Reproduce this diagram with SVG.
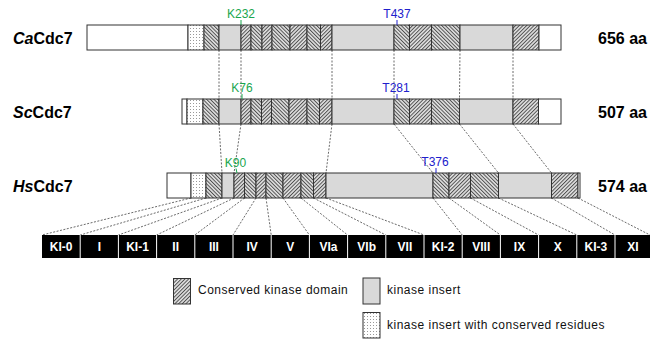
<svg xmlns="http://www.w3.org/2000/svg" width="650" height="339" viewBox="0 0 650 339">
<defs>
<pattern id="hA" width="2.6" height="2.6" patternUnits="userSpaceOnUse" patternTransform="rotate(45)"><rect width="2.6" height="2.6" fill="#e0e0e0"/><line x1="0.5" y1="0" x2="0.5" y2="2.6" stroke="#444" stroke-width="0.9"/></pattern>
<pattern id="hB" width="2.6" height="2.6" patternUnits="userSpaceOnUse" patternTransform="rotate(-45)"><rect width="2.6" height="2.6" fill="#e0e0e0"/><line x1="0.5" y1="0" x2="0.5" y2="2.6" stroke="#444" stroke-width="0.9"/></pattern>
<pattern id="dt" width="3" height="3" patternUnits="userSpaceOnUse"><rect width="3" height="3" fill="#fff"/><rect x="1" y="1" width="1" height="1" fill="#999"/></pattern>
</defs>
<style>
rect.s{stroke:#333;stroke-width:1}
.w{fill:#fff}.g{fill:#d9d9d9}.d{fill:url(#dt)}.a{fill:url(#hA)}.b{fill:url(#hB)}
.name{font-family:"Liberation Sans",Arial,sans-serif;font-weight:bold;font-size:16px;fill:#000}
.aa{font-family:"Liberation Sans",Arial,sans-serif;font-weight:bold;font-size:16px;fill:#000}
.site{font-family:"Liberation Sans",Arial,sans-serif;font-size:12px;text-anchor:middle}
.kg{fill:#1aa64e}.tb{fill:#2020cc}
.tk{stroke-width:1}
.conn line{stroke:#444;stroke-width:0.8;stroke-dasharray:2,1.5;fill:none}
.box{fill:#000}
.bl{font-family:"Liberation Sans",Arial,sans-serif;font-weight:bold;font-size:12px;fill:#fff;text-anchor:middle}
.leg{font-family:"Liberation Sans",Arial,sans-serif;font-size:12px;letter-spacing:0.5px;fill:#111}
</style>

<g id="connectors" class="conn">
<line x1="219" y1="50" x2="219" y2="99"/>
<line x1="241" y1="50" x2="241" y2="99"/>
<line x1="332" y1="50" x2="332" y2="99"/>
<line x1="394" y1="50" x2="394" y2="99"/>
<line x1="460" y1="50" x2="459.5" y2="99"/>
<line x1="513" y1="50" x2="513" y2="99"/>
<line x1="219" y1="124" x2="222" y2="173"/>
<line x1="241" y1="124" x2="234" y2="173"/>
<line x1="332" y1="124" x2="326" y2="173"/>
<line x1="394" y1="124" x2="433" y2="173"/>
<line x1="459.5" y1="124" x2="498.5" y2="173"/>
<line x1="513" y1="124" x2="551.5" y2="173"/>
<line x1="191" y1="198" x2="42" y2="235"/>
<line x1="206" y1="198" x2="80.2" y2="235"/>
<line x1="222" y1="198" x2="118.4" y2="235"/>
<line x1="234" y1="198" x2="156.6" y2="235"/>
<line x1="244.5" y1="198" x2="194.8" y2="235"/>
<line x1="256" y1="198" x2="233" y2="235"/>
<line x1="266" y1="198" x2="271.2" y2="235"/>
<line x1="283" y1="198" x2="309.4" y2="235"/>
<line x1="301" y1="198" x2="347.6" y2="235"/>
<line x1="313.5" y1="198" x2="385.8" y2="235"/>
<line x1="326" y1="198" x2="424" y2="235"/>
<line x1="433" y1="198" x2="462.2" y2="235"/>
<line x1="449" y1="198" x2="500.4" y2="235"/>
<line x1="470.5" y1="198" x2="538.6" y2="235"/>
<line x1="498.5" y1="198" x2="576.8" y2="235"/>
<line x1="551.5" y1="198" x2="615" y2="235"/>
<line x1="578" y1="198" x2="650" y2="235"/>
</g>

<g id="CaCdc7">
<text class="name" x="13" y="44"><tspan font-style="italic">Ca</tspan>Cdc7</text>
<rect class="s w" x="87" y="25" width="101" height="25"/>
<rect class="s d" x="188" y="25" width="16" height="25"/>
<rect class="s b" x="204" y="25" width="15" height="25"/>
<rect class="s g" x="219" y="25" width="22" height="25"/>
<rect class="s a" x="241" y="25" width="10" height="25"/>
<rect class="s b" x="251" y="25" width="11" height="25"/>
<rect class="s a" x="262" y="25" width="10" height="25"/>
<rect class="s b" x="272" y="25" width="18" height="25"/>
<rect class="s a" x="290" y="25" width="17" height="25"/>
<rect class="s b" x="307" y="25" width="13.5" height="25"/>
<rect class="s a" x="320.5" y="25" width="11.5" height="25"/>
<rect class="s g" x="332" y="25" width="62" height="25"/>
<rect class="s b" x="394" y="25" width="15.5" height="25"/>
<rect class="s a" x="409.5" y="25" width="22" height="25"/>
<rect class="s b" x="431.5" y="25" width="28.5" height="25"/>
<rect class="s g" x="460" y="25" width="53" height="25"/>
<rect class="s a" x="513" y="25" width="26" height="25"/>
<rect class="s w" x="539" y="25" width="22" height="25"/>
<text class="site kg" x="241" y="18">K232</text>
<line class="tk" x1="241" y1="20" x2="241" y2="25" stroke="#1aa64e"/>
<text class="site tb" x="397" y="18">T437</text>
<line class="tk" x1="397" y1="20" x2="397" y2="25" stroke="#2020cc"/>
<text class="aa" x="598" y="44">656 aa</text>
</g>

<g id="ScCdc7">
<text class="name" x="13" y="118"><tspan font-style="italic">Sc</tspan>Cdc7</text>
<rect class="s w" x="182" y="99" width="5" height="25"/>
<rect class="s d" x="187" y="99" width="16" height="25"/>
<rect class="s b" x="203" y="99" width="16" height="25"/>
<rect class="s g" x="219" y="99" width="22" height="25"/>
<rect class="s a" x="241" y="99" width="10" height="25"/>
<rect class="s b" x="251" y="99" width="10.5" height="25"/>
<rect class="s a" x="261.5" y="99" width="10" height="25"/>
<rect class="s b" x="271.5" y="99" width="17.5" height="25"/>
<rect class="s a" x="289" y="99" width="18" height="25"/>
<rect class="s b" x="307" y="99" width="12.5" height="25"/>
<rect class="s a" x="319.5" y="99" width="12.5" height="25"/>
<rect class="s g" x="332" y="99" width="62" height="25"/>
<rect class="s b" x="394" y="99" width="15.5" height="25"/>
<rect class="s a" x="409.5" y="99" width="22" height="25"/>
<rect class="s b" x="431.5" y="99" width="28" height="25"/>
<rect class="s g" x="459.5" y="99" width="53.5" height="25"/>
<rect class="s a" x="513" y="99" width="25.5" height="25"/>
<rect class="s w" x="538.5" y="99" width="22.5" height="25"/>
<text class="site kg" x="242" y="92">K76</text>
<line class="tk" x1="242" y1="94" x2="242" y2="99" stroke="#1aa64e"/>
<text class="site tb" x="396" y="92">T281</text>
<line class="tk" x1="397" y1="94" x2="397" y2="99" stroke="#2020cc"/>
<text class="aa" x="598" y="118">507 aa</text>
</g>

<g id="HsCdc7">
<text class="name" x="13" y="192"><tspan font-style="italic">Hs</tspan>Cdc7</text>
<rect class="s w" x="167" y="173" width="24" height="25"/>
<rect class="s d" x="191" y="173" width="15" height="25"/>
<rect class="s b" x="206" y="173" width="16" height="25"/>
<rect class="s g" x="222" y="173" width="12" height="25"/>
<rect class="s a" x="234" y="173" width="10.5" height="25"/>
<rect class="s b" x="244.5" y="173" width="11.5" height="25"/>
<rect class="s a" x="256" y="173" width="10" height="25"/>
<rect class="s b" x="266" y="173" width="17" height="25"/>
<rect class="s a" x="283" y="173" width="18" height="25"/>
<rect class="s b" x="301" y="173" width="12.5" height="25"/>
<rect class="s a" x="313.5" y="173" width="12.5" height="25"/>
<rect class="s g" x="326" y="173" width="107" height="25"/>
<rect class="s b" x="433" y="173" width="16" height="25"/>
<rect class="s a" x="449" y="173" width="21.5" height="25"/>
<rect class="s b" x="470.5" y="173" width="28" height="25"/>
<rect class="s g" x="498.5" y="173" width="53" height="25"/>
<rect class="s a" x="551.5" y="173" width="26.5" height="25"/>
<rect class="s w" x="578" y="173" width="2" height="25"/>
<text class="site kg" x="235.5" y="167">K90</text>
<line class="tk" x1="236" y1="168.5" x2="237" y2="173" stroke="#1aa64e"/>
<text class="site tb" x="435" y="166">T376</text>
<line class="tk" x1="436" y1="168" x2="436" y2="173" stroke="#2020cc"/>
<text class="aa" x="598" y="192">574 aa</text>
</g>

<g id="regions">
<rect class="box" x="42" y="235" width="611" height="23"/>
<g stroke="#fff" stroke-width="1">
<line x1="80.2" y1="235" x2="80.2" y2="258"/>
<line x1="118.4" y1="235" x2="118.4" y2="258"/>
<line x1="156.6" y1="235" x2="156.6" y2="258"/>
<line x1="194.8" y1="235" x2="194.8" y2="258"/>
<line x1="233" y1="235" x2="233" y2="258"/>
<line x1="271.2" y1="235" x2="271.2" y2="258"/>
<line x1="309.4" y1="235" x2="309.4" y2="258"/>
<line x1="347.6" y1="235" x2="347.6" y2="258"/>
<line x1="385.8" y1="235" x2="385.8" y2="258"/>
<line x1="424" y1="235" x2="424" y2="258"/>
<line x1="462.2" y1="235" x2="462.2" y2="258"/>
<line x1="500.4" y1="235" x2="500.4" y2="258"/>
<line x1="538.6" y1="235" x2="538.6" y2="258"/>
<line x1="576.8" y1="235" x2="576.8" y2="258"/>
<line x1="615" y1="235" x2="615" y2="258"/>
</g>
<text class="bl" x="61.1" y="251">KI-0</text>
<text class="bl" x="99.3" y="251">I</text>
<text class="bl" x="137.5" y="251">KI-1</text>
<text class="bl" x="175.7" y="251">II</text>
<text class="bl" x="213.9" y="251">III</text>
<text class="bl" x="252.1" y="251">IV</text>
<text class="bl" x="290.3" y="251">V</text>
<text class="bl" x="328.5" y="251">VIa</text>
<text class="bl" x="366.7" y="251">VIb</text>
<text class="bl" x="404.9" y="251">VII</text>
<text class="bl" x="443.1" y="251">KI-2</text>
<text class="bl" x="481.3" y="251">VIII</text>
<text class="bl" x="519.5" y="251">IX</text>
<text class="bl" x="557.7" y="251">X</text>
<text class="bl" x="595.9" y="251">KI-3</text>
<text class="bl" x="633" y="251">XI</text>
</g>

<g id="legend">
<rect class="s a" x="173.5" y="278.5" width="17" height="25.5"/>
<text class="leg" x="198" y="294">Conserved kinase domain</text>
<rect class="s g" x="363" y="278" width="17" height="26"/>
<text class="leg" x="387" y="294">kinase insert</text>
<rect class="s d" x="363" y="312.5" width="17" height="25.5"/>
<text class="leg" x="387" y="329">kinase insert with conserved residues</text>
</g>
</svg>
